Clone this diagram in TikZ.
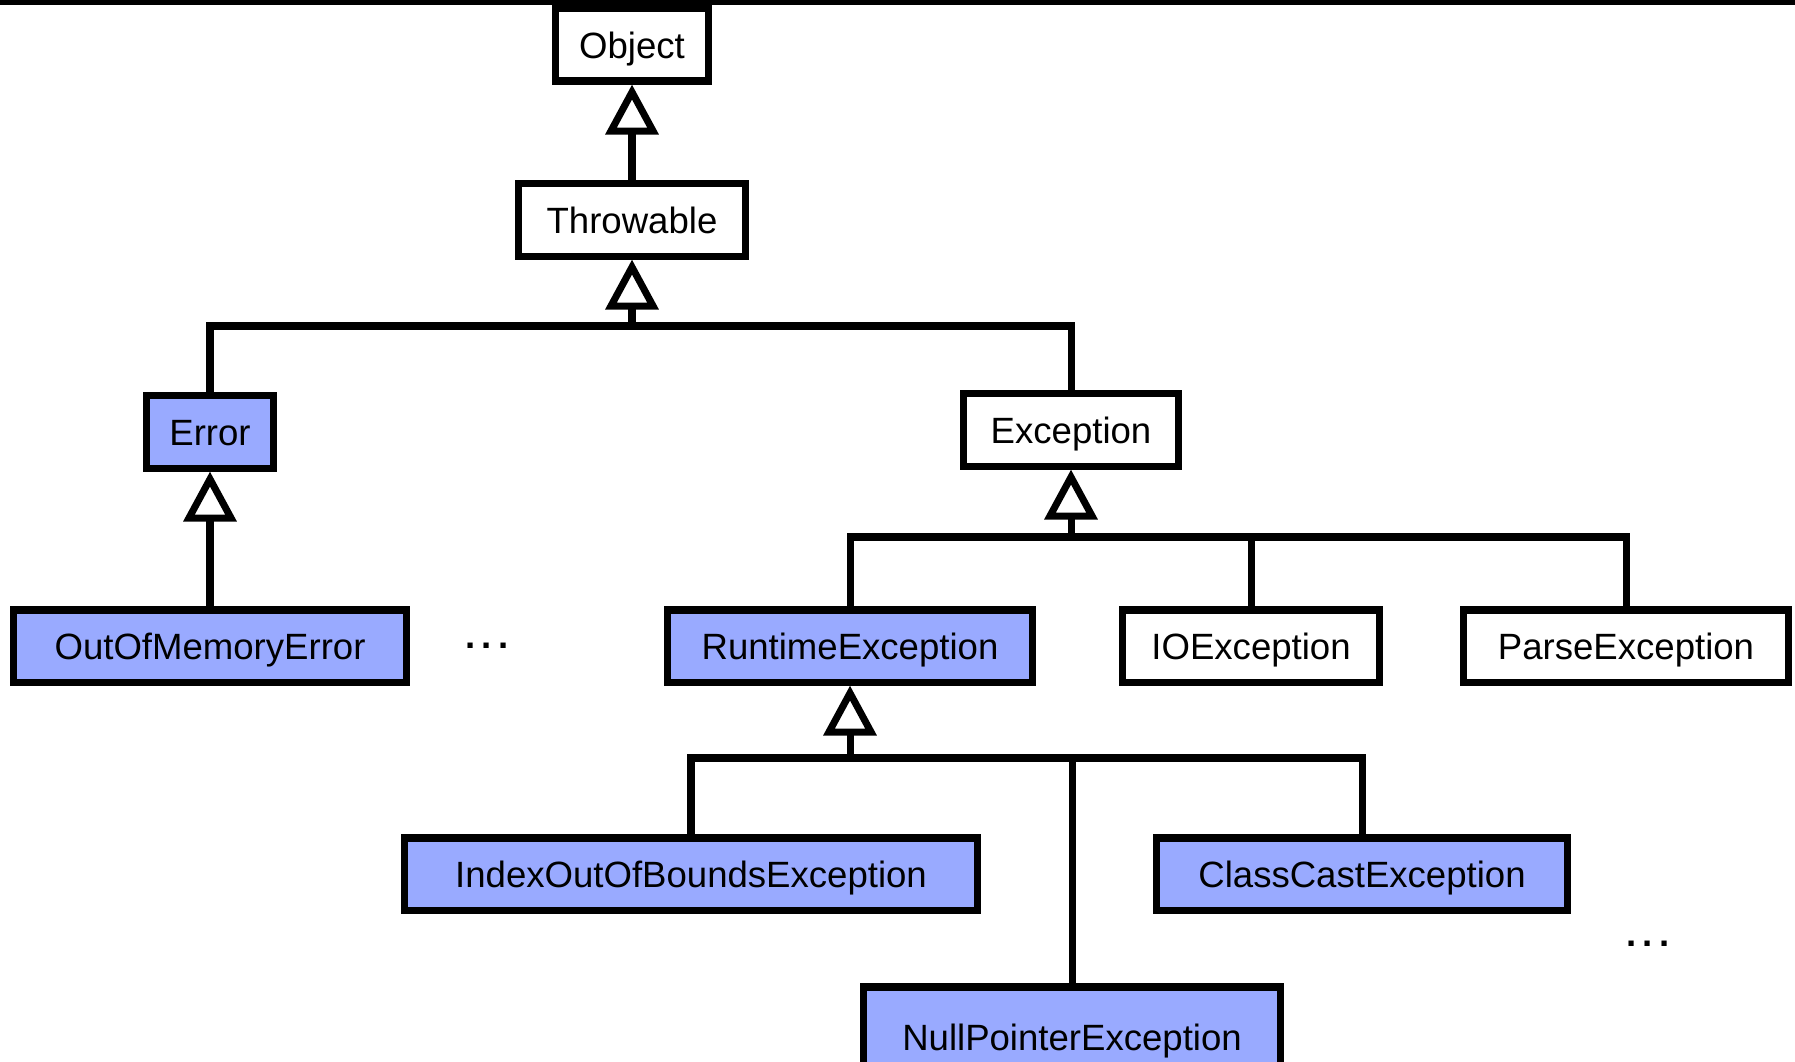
\documentclass[tikz,border=0pt]{standalone}
\usepackage{fontspec}
\setmainfont{Liberation Sans}
\usetikzlibrary{arrows.meta}
\definecolor{unchecked}{RGB}{153,170,255}
\begin{document}
\begin{tikzpicture}[x=0.01cm, y=-0.01cm, line width=2pt,
    font=\fontsize{10.4pt}{12pt}\selectfont,
    cls/.style={draw=black, fill=white, minimum height=0.72cm, inner sep=0pt,
      text height=0.74em, text depth=0pt},
    unchk/.style={cls, fill=unchecked},
    inh/.style={-{Triangle[length=0.5cm, width=0.52cm, fill=white]}}]
      \useasboundingbox (0,0) rectangle (1795,1061);
      \clip (0,0) rectangle (1795,1061);
      \draw[line width=1.6pt] (0,2) -- (1795,2);

      % Root classes
      \node[cls, minimum width=1.53cm] (object) at (632,45) {Object};
      \node[cls, minimum width=2.26cm] (throwable) at (632,220) {Throwable};

      % Second level
      \node[unchk, minimum width=1.27cm] (error) at (210,432) {Error};
      \node[cls, minimum width=2.14cm] (exception) at (1071,430) {Exception};

      % Third level
      \node[unchk, minimum width=3.92cm] (oome) at (210,646) {OutOfMemoryError};
      \node[unchk, minimum width=3.65cm] (runtime) at (850,646) {RuntimeException};
      \node[cls, minimum width=2.56cm] (ioexc) at (1251,646) {IOException};
      \node[cls, minimum width=3.25cm] (parse) at (1626,646) {ParseException};
      \node[anchor=base] (more-1) at (487,648) {\textbf{.\hspace{0.06cm}.\hspace{0.06cm}.}};

      % Runtime subclasses
      \node[unchk, minimum width=5.73cm] (index) at (691,874) {IndexOutOfBoundsException};
      \node[unchk, minimum width=4.10cm] (cast) at (1362,874) {ClassCastException};
      \node[unchk, minimum width=4.17cm, minimum height=1.0cm] (npe) at (1072,1037) {NullPointerException};
      \node[anchor=base] (more-2) at (1648,946) {\textbf{.\hspace{0.06cm}.\hspace{0.06cm}.}};

      % Bars
      \coordinate (bar-1) at (632,326);
      \coordinate (bar-2) at (1071,537);
      \coordinate (bar-3) at (850,758);

      % Inheritance
      \draw[inh] (throwable) -- (object);
      \draw[inh] (bar-1) -- (throwable);
      \foreach \c in {error,exception}
      \draw (\c.north) |- (bar-1);

      \draw[inh] (oome) -- (error);

      \draw[inh] (bar-2) -- (exception);
      \foreach \c in {runtime,ioexc,parse}
      \draw (\c.north) |- (bar-2);

      \draw[inh] (bar-3) -- (runtime);
      \foreach \c in {index,cast,npe}
      \draw (\c.north) |- (bar-3);

   \end{tikzpicture}
\end{document}
